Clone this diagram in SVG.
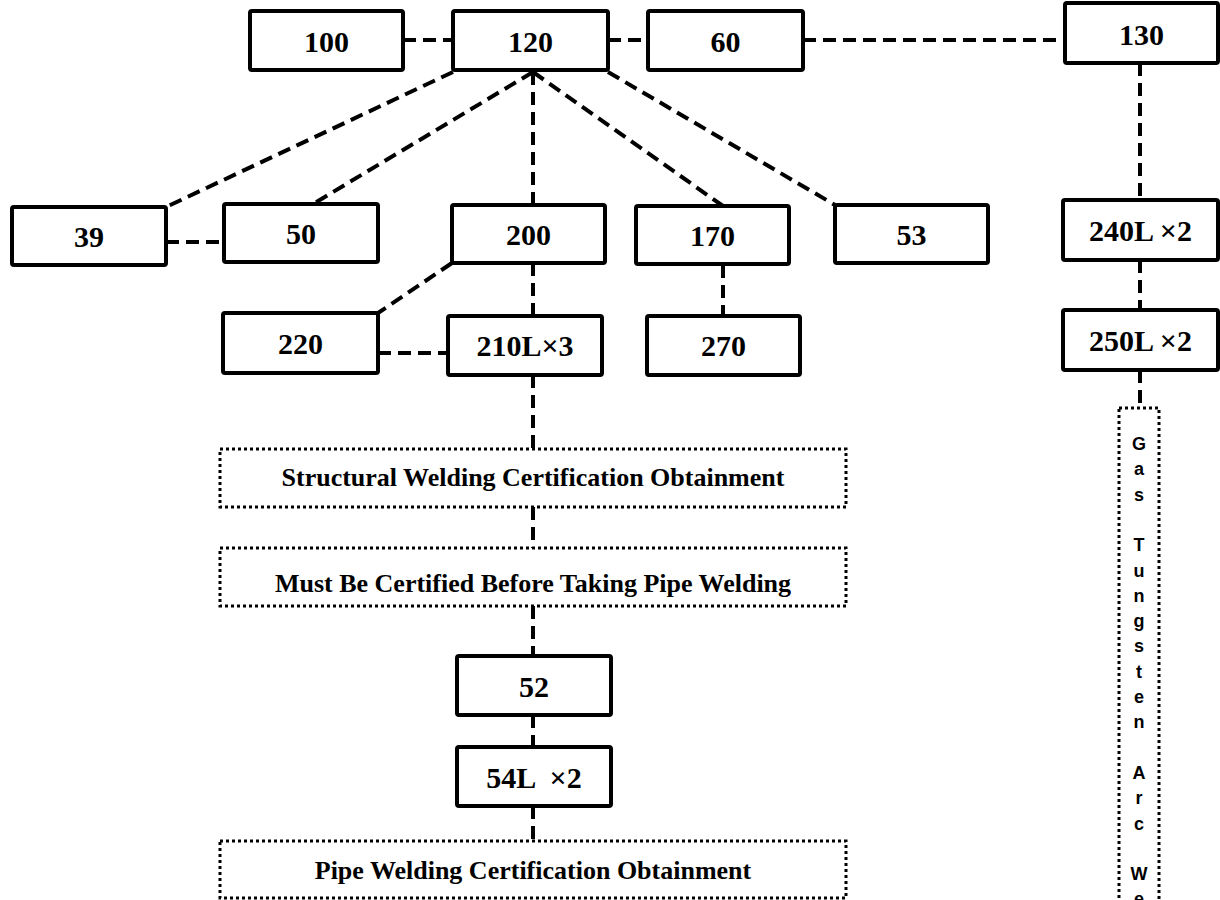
<svg xmlns="http://www.w3.org/2000/svg" width="1220" height="900" viewBox="0 0 1220 900">
<style>
.box{fill:#fff;stroke:#000;stroke-width:4;}
.dot{fill:#fff;stroke:#000;stroke-width:3;stroke-dasharray:3 3;}
.lbl{font-family:"Liberation Serif","Times New Roman",serif;font-weight:bold;font-size:30px;text-anchor:middle;fill:#000;}
.big{font-family:"Liberation Serif","Times New Roman",serif;font-weight:bold;font-size:26px;text-anchor:middle;fill:#000;}
.vt{font-family:"Liberation Sans",Arial,sans-serif;font-weight:bold;font-size:18px;text-anchor:middle;fill:#000;}
.con{fill:none;stroke:#000;stroke-width:4;stroke-dasharray:13 7;}
</style>
<rect width="1220" height="900" fill="#fff"/>
<g id="connectors">
<line class="con" x1="403" y1="40" x2="453" y2="40"/>
<line class="con" x1="608" y1="40" x2="648" y2="40"/>
<line class="con" x1="803" y1="40" x2="1065" y2="40"/>
<line class="con" x1="453" y1="72" x2="166" y2="207"/>
<line class="con" x1="533" y1="72" x2="313" y2="204"/>
<line class="con" x1="533" y1="72" x2="533" y2="205"/>
<line class="con" x1="533" y1="72" x2="723" y2="206"/>
<line class="con" x1="608" y1="72" x2="835" y2="205"/>
<line class="con" x1="1140" y1="63" x2="1140" y2="200"/>
<line class="con" x1="1140" y1="260" x2="1140" y2="310"/>
<line class="con" x1="1140" y1="370" x2="1140" y2="408"/>
<line class="con" x1="166" y1="242" x2="224" y2="242"/>
<line class="con" x1="452" y1="263" x2="378" y2="313"/>
<line class="con" x1="378" y1="353" x2="448" y2="353"/>
<line class="con" x1="723" y1="265" x2="723" y2="316"/>
<line class="con" x1="533" y1="263" x2="533" y2="316"/>
<line class="con" x1="533" y1="375" x2="533" y2="449"/>
<line class="con" x1="533" y1="507" x2="533" y2="548"/>
<line class="con" x1="533" y1="606" x2="533" y2="656"/>
<line class="con" x1="533" y1="715" x2="533" y2="747"/>
<line class="con" x1="533" y1="806" x2="533" y2="841"/>
</g>
<g id="n100"><rect class="box" x="250" y="11" width="153" height="59" rx="2"/><text class="lbl" x="326.5" y="52">100</text></g>
<g id="n120"><rect class="box" x="453" y="11" width="155" height="59" rx="2"/><text class="lbl" x="530.5" y="52">120</text></g>
<g id="n60"><rect class="box" x="648" y="11" width="155" height="59" rx="2"/><text class="lbl" x="725.5" y="52">60</text></g>
<g id="n130"><rect class="box" x="1065" y="3" width="153" height="60" rx="2"/><text class="lbl" x="1141.5" y="45">130</text></g>
<g id="n39"><rect class="box" x="12" y="207" width="154" height="58" rx="2"/><text class="lbl" x="89" y="247">39</text></g>
<g id="n50"><rect class="box" x="224" y="204" width="154" height="58" rx="2"/><text class="lbl" x="301" y="244">50</text></g>
<g id="n200"><rect class="box" x="452" y="205" width="153" height="58" rx="2"/><text class="lbl" x="528.5" y="245">200</text></g>
<g id="n170"><rect class="box" x="636" y="206" width="153" height="58" rx="2"/><text class="lbl" x="712.5" y="246">170</text></g>
<g id="n53"><rect class="box" x="835" y="205" width="153" height="58" rx="2"/><text class="lbl" x="911.5" y="245">53</text></g>
<g id="n240"><rect class="box" x="1063" y="200" width="155" height="60" rx="2"/><text class="lbl" x="1140.5" y="241">240L ×2</text></g>
<g id="n220"><rect class="box" x="223" y="313" width="155" height="60" rx="2"/><text class="lbl" x="300.5" y="354">220</text></g>
<g id="n210"><rect class="box" x="448" y="316" width="154" height="59" rx="2"/><text class="lbl" x="525" y="356">210L×3</text></g>
<g id="n270"><rect class="box" x="647" y="316" width="153" height="59" rx="2"/><text class="lbl" x="723.5" y="356">270</text></g>
<g id="n250"><rect class="box" x="1063" y="310" width="155" height="60" rx="2"/><text class="lbl" x="1140.5" y="351">250L ×2</text></g>
<g id="d1"><rect class="dot" x="220" y="449" width="626" height="58"/><text class="big" x="533" y="486">Structural Welding Certification Obtainment</text></g>
<g id="d2"><rect class="dot" x="220" y="548" width="626" height="58"/><text class="big" x="533" y="592">Must Be Certified Before Taking Pipe Welding</text></g>
<g id="n52"><rect class="box" x="457" y="656" width="154" height="59" rx="2"/><text class="lbl" x="534" y="697">52</text></g>
<g id="n54"><rect class="box" x="457" y="747" width="154" height="59" rx="2"/><text class="lbl" x="534" y="788" xml:space="preserve">54L  ×2</text></g>
<g id="d3"><rect class="dot" x="220" y="841" width="626" height="57"/><text class="big" x="533" y="879">Pipe Welding Certification Obtainment</text></g>
<g id="dv"><rect class="dot" x="1119" y="408" width="40" height="520"/><text class="vt" x="1139 1139 1139 1139 1139 1139 1139 1139 1139 1139 1139 1139 1139 1139 1139 1139 1139 1139 1139" y="450 475.3 500.6 525.9 551.2 576.5 601.8 627.1 652.4 677.7 703 728.3 753.6 778.9 804.2 829.5 854.8 880.1 905.4">Gas Tungsten Arc We</text></g>
</svg>
